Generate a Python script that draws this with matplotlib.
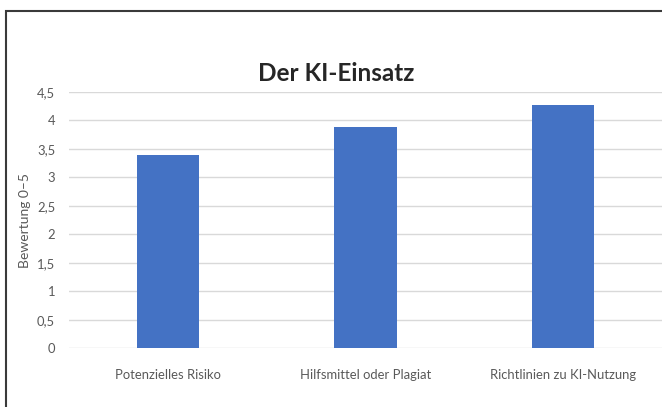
import matplotlib.pyplot as plt
from matplotlib.patches import Rectangle
from matplotlib.ticker import FuncFormatter

categories = ['Potenzielles Risiko', 'Hilfsmittel oder Plagiat', 'Richtlinien zu KI-Nutzung']
values = [3.39, 3.88, 4.26]
yticks = [0, 0.5, 1, 1.5, 2, 2.5, 3, 3.5, 4, 4.5]

plt.rcParams['font.family'] = ['Lato', 'DejaVu Sans']

fig = plt.figure(figsize=(6.62, 4.07), dpi=100)
ax = fig.add_axes([0.1042, 0.1442, 0.8958, 0.6305])

ax.bar(range(len(categories)), values, width=0.314, color='#4472C4', zorder=3)

ax.set_xlim(-0.5, len(categories) - 0.5)
ax.set_ylim(0, 4.5)
ax.set_yticks(yticks)
ax.yaxis.set_major_formatter(FuncFormatter(lambda v, p: f'{v:g}'.replace('.', ',')))
ax.set_xticks(range(len(categories)))
ax.set_xticklabels(categories)
ax.tick_params(axis='both', length=0, labelsize=9.4, colors='#595959')
ax.tick_params(axis='y', pad=10)
ax.tick_params(axis='x', pad=15)
ax.grid(axis='y', color='#D9D9D9', linewidth=1, zorder=0)
for s in ax.spines.values():
    s.set_visible(False)

ax.set_ylabel('Bewertung 0–5', fontsize=10, color='#595959', labelpad=4)

fig.text(0.5076, 0.82, 'Der KI-Einsatz', ha='center', va='center',
         fontsize=17.5, fontweight='bold', color='#262626')

# chart frame
fig.patches.append(Rectangle((6 / 662, -0.1), 1.2, 1 - 11 / 407 + 0.1,
                             transform=fig.transFigure, fill=False,
                             edgecolor='#3A3A3A', linewidth=1.5))

fig.savefig('out.png', dpi=100)
